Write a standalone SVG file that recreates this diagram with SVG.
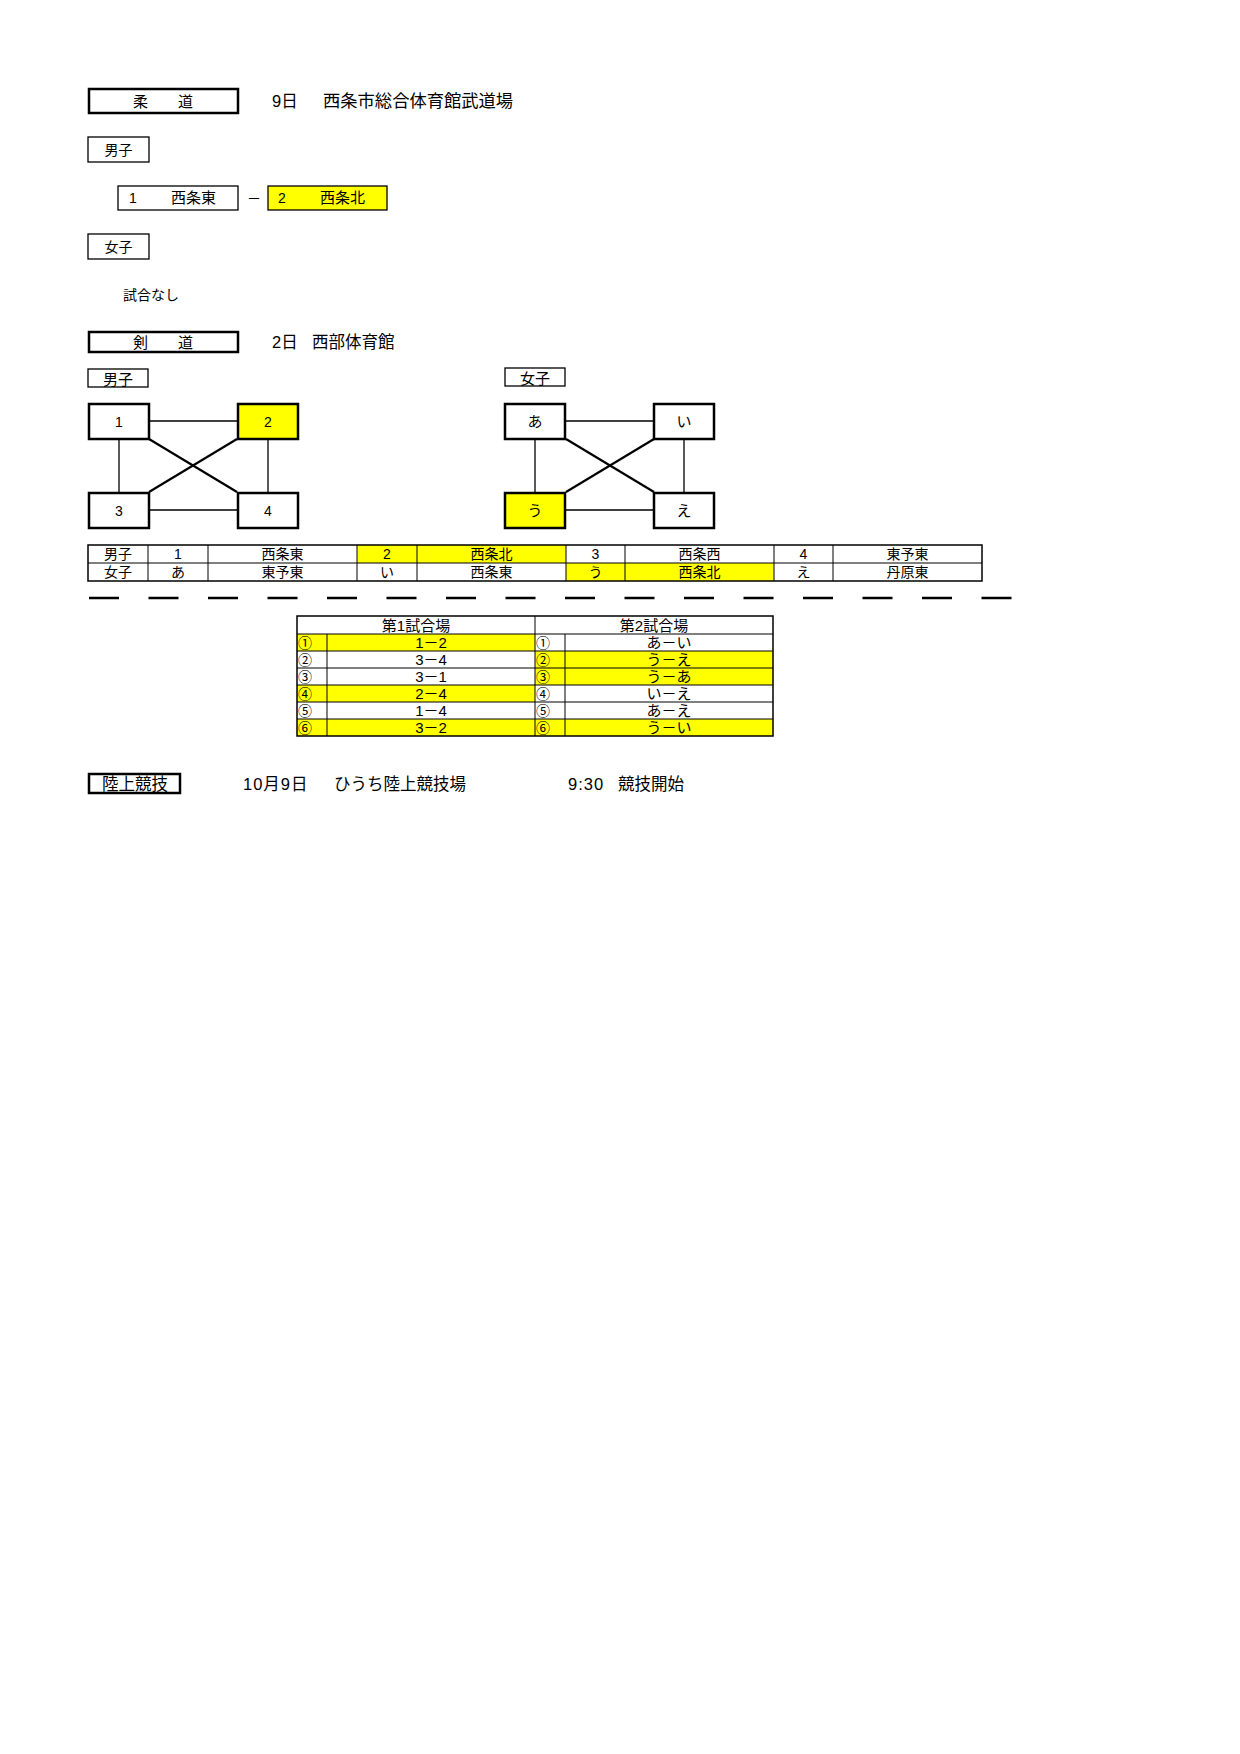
<svg xmlns="http://www.w3.org/2000/svg" width="1240" height="1754" viewBox="0 0 1240 1754">
<style>
text{font-family:"Liberation Sans","Noto Sans CJK JP",sans-serif;fill:#000}
.h{font-size:16.5px}
.hl{font-size:17.3px}
.s{font-size:14px}
.m{font-size:15px}
.cn{font-size:14px}
.c{text-anchor:middle}
.thick{fill:#fff;stroke:#000;stroke-width:2.5}
.thin{fill:#fff;stroke:#000;stroke-width:1.3}
.node{fill:#fff;stroke:#000;stroke-width:2.5}
.y{fill:#ffff00}
.ln{stroke:#000;stroke-width:1.3;fill:none}
.dg{stroke:#000;stroke-width:2.2;fill:none}
.tb{stroke:#000;stroke-width:1;fill:none}
.dash{stroke:#000;stroke-width:2.5;stroke-dasharray:30 29.5;fill:none}
</style>

<g id="judo-title">
<rect class="thick" x="89" y="89" width="149" height="24"/>
<text class="m c" x="163" y="107">柔　　道</text>
<text class="h" x="272" y="107">9日</text>
<text class="hl" x="323" y="107">西条市総合体育館武道場</text>
</g>
<g id="judo-male-label">
<rect class="thin" x="88" y="137" width="61" height="25"/>
<text class="s c" x="118.5" y="155">男子</text>
</g>
<g id="judo-team1">
<rect class="thin" x="118" y="186" width="120" height="24"/>
<text class="s" x="129" y="203">1</text>
<text class="m" x="171" y="203">西条東</text>
</g>
<text class="s c" x="254" y="203">－</text>
<g id="judo-team2">
<rect class="thin y" x="268" y="186" width="119" height="24"/>
<text class="s" x="278" y="203">2</text>
<text class="m" x="320" y="203">西条北</text>
</g>
<g id="judo-female-label">
<rect class="thin" x="88" y="234" width="61" height="25"/>
<text class="s c" x="118.5" y="252">女子</text>
</g>
<text class="s" x="123" y="300">試合なし</text>

<g id="kendo-title">
<rect class="thick" x="89" y="332" width="149" height="20"/>
<text class="m c" x="163" y="348">剣　　道</text>
<text class="h" x="272" y="348">2日</text>
<text class="h" x="312" y="348">西部体育館</text>
</g>

<g id="connectors">
<line class="ln" x1="149" y1="421" x2="237" y2="421"/>
<line class="ln" x1="119" y1="439" x2="119" y2="492"/>
<line class="ln" x1="268" y1="439" x2="268" y2="492"/>
<line class="ln" x1="149" y1="510" x2="237" y2="510"/>
<line class="dg" x1="149" y1="439" x2="237" y2="492"/>
<line class="dg" x1="237" y1="439" x2="149" y2="492"/>
<line class="ln" x1="566" y1="421" x2="654" y2="421"/>
<line class="ln" x1="535" y1="439" x2="535" y2="492"/>
<line class="ln" x1="684" y1="439" x2="684" y2="492"/>
<line class="ln" x1="566" y1="510" x2="654" y2="510"/>
<line class="dg" x1="566" y1="439" x2="654" y2="492"/>
<line class="dg" x1="654" y1="439" x2="566" y2="492"/>
</g>

<g id="kendo-male-label">
<rect class="thin" x="88" y="369" width="60" height="18"/>
<text class="m c" x="118" y="385">男子</text>
</g>
<g id="node-1"><rect class="node" x="89" y="404" width="60" height="35"/><text class="s c" x="119" y="427">1</text></g>
<g id="node-2"><rect class="node y" x="238" y="404" width="60" height="35"/><text class="s c" x="268" y="427">2</text></g>
<g id="node-3"><rect class="node" x="89" y="493" width="60" height="35"/><text class="s c" x="119" y="516">3</text></g>
<g id="node-4"><rect class="node" x="238" y="493" width="60" height="35"/><text class="s c" x="268" y="516">4</text></g>

<g id="kendo-female-label">
<rect class="thin" x="505" y="368" width="60" height="18"/>
<text class="m c" x="535" y="384">女子</text>
</g>
<g id="node-a"><rect class="node" x="505" y="404" width="60" height="35"/><text class="m c" x="535" y="427">あ</text></g>
<g id="node-i"><rect class="node" x="654" y="404" width="60" height="35"/><text class="m c" x="684" y="427">い</text></g>
<g id="node-u"><rect class="node y" x="505" y="493" width="60" height="35"/><text class="m c" x="535" y="516">う</text></g>
<g id="node-e"><rect class="node" x="654" y="493" width="60" height="35"/><text class="m c" x="684" y="516">え</text></g>

<g id="team-table">
<rect class="y" x="357" y="545" width="209" height="18"/>
<rect class="y" x="566" y="563" width="208" height="18"/>
<rect class="tb" x="88" y="545" width="894" height="36" style="stroke-width:1.5"/>
<line class="tb" x1="88" y1="563" x2="982" y2="563"/>
<line class="tb" x1="148" y1="545" x2="148" y2="581"/>
<line class="tb" x1="208" y1="545" x2="208" y2="581"/>
<line class="tb" x1="357" y1="545" x2="357" y2="581"/>
<line class="tb" x1="417" y1="545" x2="417" y2="581"/>
<line class="tb" x1="566" y1="545" x2="566" y2="581"/>
<line class="tb" x1="625" y1="545" x2="625" y2="581"/>
<line class="tb" x1="774" y1="545" x2="774" y2="581"/>
<line class="tb" x1="833" y1="545" x2="833" y2="581"/>
<text class="s c" x="118" y="559">男子</text>
<text class="s c" x="178" y="559">1</text>
<text class="s c" x="282.5" y="559">西条東</text>
<text class="s c" x="387" y="559">2</text>
<text class="s c" x="491.5" y="559">西条北</text>
<text class="s c" x="595.5" y="559">3</text>
<text class="s c" x="699.5" y="559">西条西</text>
<text class="s c" x="803.5" y="559">4</text>
<text class="s c" x="907.5" y="559">東予東</text>
<text class="s c" x="118" y="577">女子</text>
<text class="s c" x="178" y="577">あ</text>
<text class="s c" x="282.5" y="577">東予東</text>
<text class="s c" x="387" y="577">い</text>
<text class="s c" x="491.5" y="577">西条東</text>
<text class="s c" x="595.5" y="577">う</text>
<text class="s c" x="699.5" y="577">西条北</text>
<text class="s c" x="803.5" y="577">え</text>
<text class="s c" x="907.5" y="577">丹原東</text>
</g>

<line class="dash" x1="89" y1="598" x2="1012" y2="598"/>

<g id="match-table">
<rect class="y" x="297" y="634" width="238" height="17"/>
<rect class="y" x="297" y="685" width="238" height="17"/>
<rect class="y" x="297" y="719" width="238" height="17"/>
<rect class="y" x="535" y="651" width="238" height="34"/>
<rect class="y" x="535" y="719" width="238" height="17"/>
<rect class="tb" x="297" y="616" width="476" height="120" style="stroke-width:1.5"/>
<line class="tb" x1="297" y1="634" x2="773" y2="634"/>
<line class="tb" x1="297" y1="651" x2="773" y2="651"/>
<line class="tb" x1="297" y1="668" x2="773" y2="668"/>
<line class="tb" x1="297" y1="685" x2="773" y2="685"/>
<line class="tb" x1="297" y1="702" x2="773" y2="702"/>
<line class="tb" x1="297" y1="719" x2="773" y2="719"/>
<line class="tb" x1="535" y1="616" x2="535" y2="736"/>
<line class="tb" x1="327" y1="634" x2="327" y2="736"/>
<line class="tb" x1="565" y1="634" x2="565" y2="736"/>
<text class="m c" x="416" y="631">第1試合場</text>
<text class="m c" x="654" y="631">第2試合場</text>
<text class="cn" x="298" y="648">①</text>
<text class="cn" x="298" y="665">②</text>
<text class="cn" x="298" y="682">③</text>
<text class="cn" x="298" y="699">④</text>
<text class="cn" x="298" y="716">⑤</text>
<text class="cn" x="298" y="733">⑥</text>
<text class="cn" x="536" y="648">①</text>
<text class="cn" x="536" y="665">②</text>
<text class="cn" x="536" y="682">③</text>
<text class="cn" x="536" y="699">④</text>
<text class="cn" x="536" y="716">⑤</text>
<text class="cn" x="536" y="733">⑥</text>
<text class="m c" x="431" y="648">1－2</text>
<text class="m c" x="431" y="665">3－4</text>
<text class="m c" x="431" y="682">3－1</text>
<text class="m c" x="431" y="699">2－4</text>
<text class="m c" x="431" y="716">1－4</text>
<text class="m c" x="431" y="733">3－2</text>
<text class="m c" x="669" y="648">あ－い</text>
<text class="m c" x="669" y="665">う－え</text>
<text class="m c" x="669" y="682">う－あ</text>
<text class="m c" x="669" y="699">い－え</text>
<text class="m c" x="669" y="716">あ－え</text>
<text class="m c" x="669" y="733">う－い</text>
</g>

<g id="track-title">
<rect class="thick" x="89" y="774" width="91" height="19"/>
<text class="h c" x="135" y="790">陸上競技</text>
<text class="h" x="243" y="790" letter-spacing="1">10月9日</text>
<text class="h" x="334" y="790">ひうち陸上競技場</text>
<text class="h" x="568" y="790" letter-spacing="1">9:30</text>
<text class="h" x="618" y="790">競技開始</text>
</g>
</svg>
